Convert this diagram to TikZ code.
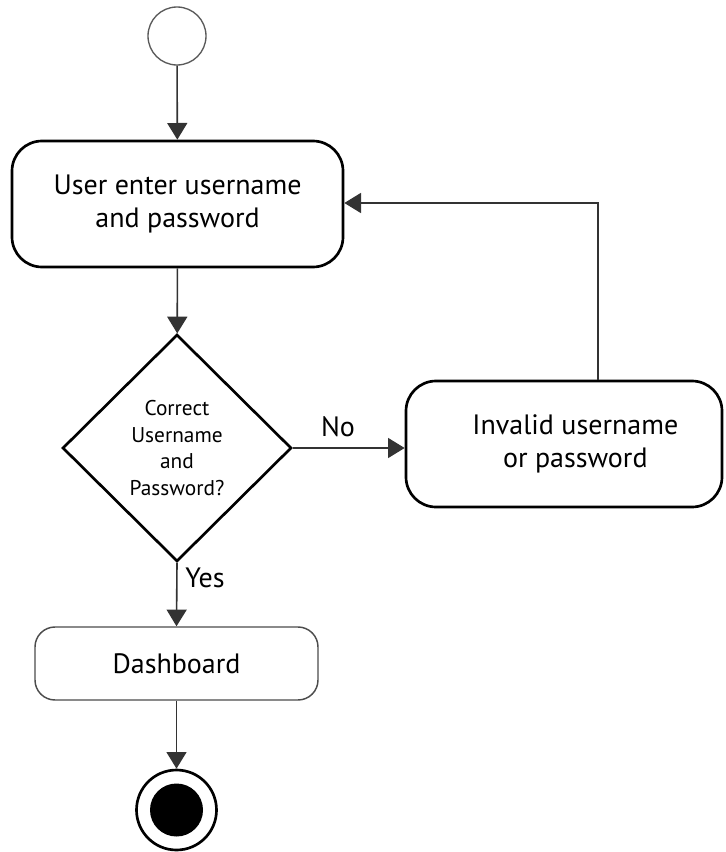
\documentclass[tikz,border=0pt]{standalone}
\usepackage{fontspec}
\setmainfont{PT Sans}
\usetikzlibrary{shapes.geometric,arrows.meta}
\begin{document}
\begin{tikzpicture}[x=0.75pt,y=-0.75pt,
  flow/.style={draw=black!80,line width=1.2pt,-{Triangle[length=12.5pt,width=15pt]}},
  heavybox/.style={draw=black,line width=2pt,rounded corners=22.5pt,fill=white,
    align=center,inner sep=0pt,font=\fontsize{21}{25}\selectfont},
  lightbox/.style={draw=black!70,line width=1.1pt,rounded corners=15pt,fill=white,
    align=center,inner sep=0pt,font=\fontsize{21}{25}\selectfont},
  decision/.style={draw=black,line width=2pt,diamond,inner sep=0pt,fill=white,
    align=center,font=\fontsize{16}{20}\selectfont},
  edgelabel/.style={font=\fontsize{21}{24}\selectfont,inner sep=0pt}]
  \useasboundingbox (0,0) rectangle (725,852);

  % start and end states
  \node[circle,draw=black!65,line width=1pt,minimum size=43.5pt,inner sep=0pt] (start) at (177,36) {};
  \node[circle,draw=black,line width=2pt,minimum size=60pt,inner sep=0pt] (stop) at (176.5,810) {};
  \node[circle,fill=black,minimum size=39.75pt,inner sep=0pt] (stopdot) at (stop.center) {};

  % activities and decision
  \node[heavybox,minimum width=248.25pt,minimum height=94.5pt] (login) at (177.5,204)
    {User enter username\\and password};
  \node[decision,minimum width=171.75pt,minimum height=170.25pt] (check) at (177,448)
    {Correct\\Username\\and\\Password?};
  \node[heavybox,minimum width=237pt,minimum height=94.5pt] (invalid) at (564,444)
    {\hspace*{17pt}Invalid username\\\hspace*{17pt}or password};
  \node[lightbox,minimum width=212.25pt,minimum height=54.75pt] (dash) at (176.5,663.5)
    {Dashboard};

  % route back to the login step
  \coordinate (retry) at (598,203);

  % transitions
  \draw[flow] (start) -- (login);
  \draw[flow] (login) -- (check);
  \draw[flow] (check.east) -- (check.east -| invalid.west);
  \draw[flow] (check.south) -- (dash.north);
  \draw[flow] (dash) -- (stop);
  \draw[flow] (invalid.north -| retry) -- (retry) -- (login.east |- retry);

  % guard labels
  \node[edgelabel] (no) at (338,427) {No};
  \node[edgelabel] (yes) at (205,578) {Yes};
\end{tikzpicture}
\end{document}
